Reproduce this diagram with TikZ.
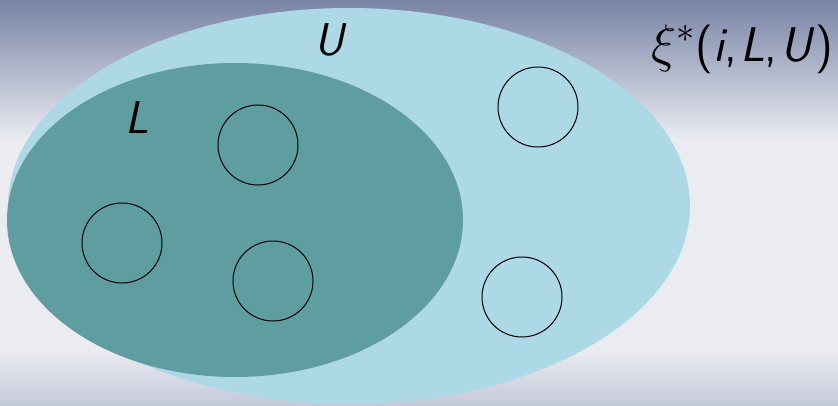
\documentclass[tikz,border=0pt]{standalone}
\usetikzlibrary{shapes.geometric}
\definecolor{bgtop}{RGB}{120,132,166}
\definecolor{bgmid}{RGB}{235,236,241}
\definecolor{bgbot}{RGB}{196,201,218}
\definecolor{setU}{RGB}{173,216,230}
\definecolor{setL}{RGB}{95,158,160}
\tikzset{
  elem/.style={circle,draw=black,line width=1pt,minimum size=80pt,inner sep=0pt},
  setlabel/.style={font=\fontsize{46}{55}\selectfont\sffamily\itshape,inner sep=0pt},
}
\begin{document}
\begin{tikzpicture}[x=1pt,y=1pt]
\useasboundingbox (0,0) rectangle (838,405);
\fill[bgmid] (0,0) rectangle (838,405);
\shade[top color=bgtop,bottom color=bgmid] (0,265) rectangle (838,405);
\shade[top color=bgmid,bottom color=bgbot] (0,0) rectangle (838,55);
\node[ellipse,fill=setU,minimum width=682pt,minimum height=396pt,inner sep=0pt] (U) at (349,199) {};
\node[ellipse,fill=setL,minimum width=456pt,minimum height=314pt,inner sep=0pt] (L) at (235,185) {};
\node[elem] (c1) at (538,298) {};
\node[elem] (c2) at (258,260) {};
\node[elem] (c3) at (122,162) {};
\node[elem] (c4) at (273,124) {};
\node[elem] (c5) at (522,108) {};
\node[setlabel] (lu) at (329,365) {U};
\node[setlabel] (ll) at (137,287) {L};
\node[inner sep=0pt,scale=2.12,font=\fontsize{23}{28}\selectfont] (xi) at (742,356) {$\xi^*$\textsf{(\textit{i},\kern1.5pt\textit{L},\kern1.5pt\textit{U})}};
\end{tikzpicture}
\end{document}
